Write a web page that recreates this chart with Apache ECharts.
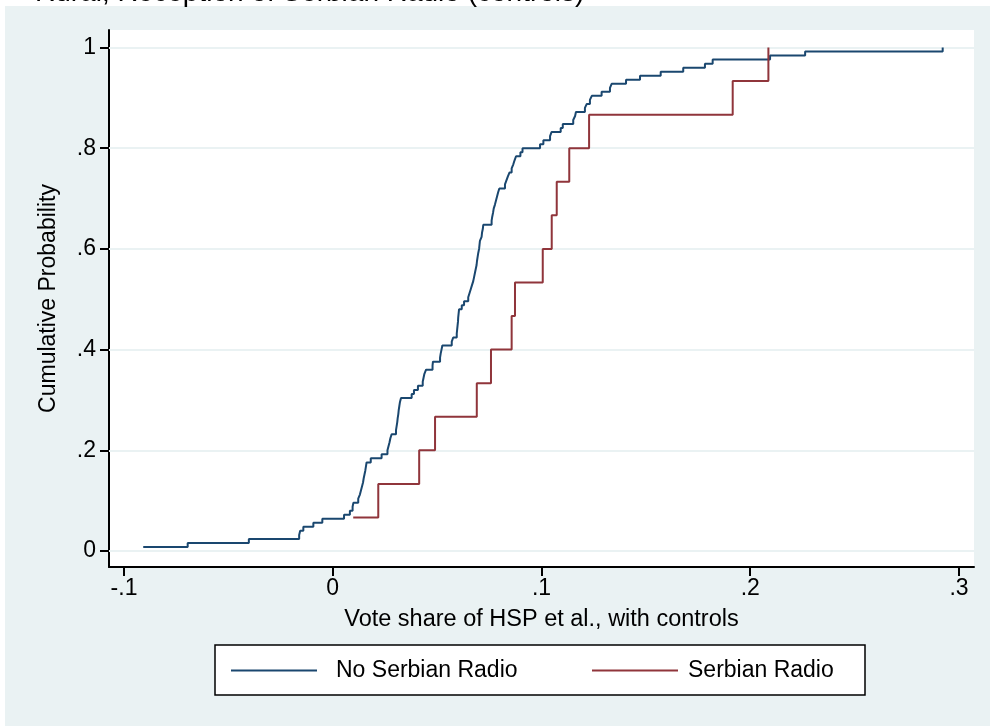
<!DOCTYPE html>
<html>
<head>
<meta charset="utf-8">
<script src="https://cdn.jsdelivr.net/npm/echarts@6/dist/echarts.min.js"></script>
<style>
  html, body { margin: 0; padding: 0; background: #ffffff; }
  #chart { width: 990px; height: 726px; }
</style>
</head>
<body>
<div id="chart"></div>
<script>
// ---------- data ----------
const titleText = 'Rural, Reception of Serbian Radio (controls)';
const xAxisTitle = 'Vote share of HSP et al., with controls';
const yAxisTitle = 'Cumulative Probability';
const seriesNames = ['No Serbian Radio', 'Serbian Radio'];

const xTicks = [-0.1, 0, 0.1, 0.2, 0.3];
const yTicks = [0, 0.2, 0.4, 0.6, 0.8, 1];

// No Serbian Radio: sorted values and their cumulative probabilities
const noRadioX = [
  -0.0908, -0.0695, -0.0402, -0.0161, -0.0156, -0.0141, -0.0093, -0.0050, 0.0054, 0.0082,
  0.0095, 0.0099, 0.0122, 0.0130, 0.0135, 0.0140, 0.0145, 0.0148, 0.0152, 0.0156,
  0.0159, 0.0162, 0.0182, 0.0234, 0.0262, 0.0267, 0.0272, 0.0276, 0.0282, 0.0303,
  0.0306, 0.0309, 0.0311, 0.0314, 0.0316, 0.0319, 0.0322, 0.0327, 0.0378, 0.0389,
  0.0408, 0.0431, 0.0435, 0.0439, 0.0447, 0.0478, 0.0480, 0.0514, 0.0517, 0.0521,
  0.0525, 0.0570, 0.0577, 0.0594, 0.0596, 0.0598, 0.0600, 0.0601, 0.0603, 0.0605,
  0.0618, 0.0629, 0.0649, 0.0655, 0.0661, 0.0667, 0.0673, 0.0677, 0.0681, 0.0685,
  0.0689, 0.0691, 0.0694, 0.0697, 0.0701, 0.0703, 0.0705, 0.0713, 0.0715, 0.0719,
  0.0721, 0.0761, 0.0764, 0.0768, 0.0771, 0.0777, 0.0782, 0.0787, 0.0792, 0.0798,
  0.0825, 0.0832, 0.0839, 0.0847, 0.0857, 0.0865, 0.0871, 0.0878, 0.0899, 0.0909,
  0.0993, 0.1009, 0.1041, 0.1048, 0.1092, 0.1102, 0.1152, 0.1161, 0.1165, 0.1208,
  0.1217, 0.1232, 0.1241, 0.1288, 0.1328, 0.1336, 0.1405, 0.1472, 0.1571, 0.1679,
  0.1783, 0.1820, 0.2095, 0.2263, 0.2922
];
const noRadioF = [
  0.008, 0.016, 0.024, 0.032, 0.040, 0.048, 0.056, 0.064, 0.072, 0.080,
  0.088, 0.096, 0.104, 0.112, 0.120, 0.128, 0.136, 0.144, 0.152, 0.160,
  0.168, 0.176, 0.184, 0.192, 0.200, 0.208, 0.216, 0.224, 0.232, 0.240,
  0.248, 0.256, 0.264, 0.272, 0.280, 0.288, 0.296, 0.304, 0.312, 0.320,
  0.328, 0.336, 0.344, 0.352, 0.360, 0.368, 0.376, 0.384, 0.392, 0.400,
  0.408, 0.416, 0.424, 0.432, 0.440, 0.448, 0.456, 0.464, 0.472, 0.480,
  0.488, 0.496, 0.504, 0.512, 0.520, 0.528, 0.536, 0.544, 0.552, 0.560,
  0.568, 0.576, 0.584, 0.592, 0.600, 0.608, 0.616, 0.624, 0.632, 0.640,
  0.648, 0.656, 0.664, 0.672, 0.680, 0.688, 0.696, 0.704, 0.712, 0.720,
  0.728, 0.736, 0.744, 0.752, 0.760, 0.768, 0.776, 0.784, 0.792, 0.800,
  0.808, 0.816, 0.824, 0.832, 0.840, 0.848, 0.856, 0.864, 0.872, 0.880,
  0.888, 0.896, 0.904, 0.912, 0.920, 0.928, 0.936, 0.944, 0.952, 0.960,
  0.968, 0.976, 0.984, 0.992, 1.000
];

// Serbian Radio
const radioX = [0.0098, 0.0218, 0.0414, 0.0490, 0.0690, 0.0758, 0.0857, 0.0873,
                0.1006, 0.1049, 0.1073, 0.1133, 0.1228, 0.1916, 0.2087];
const radioF = [0.0667, 0.1333, 0.2000, 0.2667, 0.3333, 0.4000, 0.4667, 0.5333,
                0.6000, 0.6667, 0.7333, 0.8000, 0.8667, 0.9333, 1.0000];

// ---------- chart ----------
const navy = '#1a476f';
const maroon = '#90353b';
const gridColor = '#eaf2f3';
const font = "'Liberation Sans', Arial, Helvetica, sans-serif";
const fs = 23;

const pair = (xs, ys) => xs.map((x, i) => [x, ys[i]]);
const tickFmt = v => (v === 0 ? '0' : v === 1 ? '1' : String(v).replace('0.', '.'));

const chart = echarts.init(document.getElementById('chart'), null, { renderer: 'canvas' });

chart.setOption({
  animation: false,
  textStyle: { fontFamily: font, color: '#000' },
  title: {
    text: titleText,
    left: 30,
    top: -26,
    textStyle: { fontFamily: font, fontSize: 28, fontWeight: 'normal', color: '#000' },
    z: 1
  },
  graphic: [
    { type: 'rect', z: -10, silent: true,
      shape: { x: 5, y: 6, width: 990, height: 730 },
      style: { fill: '#eaf2f3' } },
    { type: 'rect', z: 5, silent: true,
      shape: { x: 215, y: 645, width: 650, height: 50 },
      style: { fill: '#ffffff', stroke: '#000000', lineWidth: 1.5 } }
  ],
  grid: {
    left: 109, right: 16, top: 30, bottom: 159,
    show: true, backgroundColor: '#ffffff', borderWidth: 0
  },
  legend: [
    { data: [{ name: seriesNames[0], icon: 'rect' }], left: 231, top: 659,
      itemWidth: 86, itemHeight: 2, padding: 0, z: 10, selectedMode: false,
      textStyle: { fontFamily: font, fontSize: fs, color: '#000', padding: [0, 0, 0, 14] } },
    { data: [{ name: seriesNames[1], icon: 'rect' }], left: 592, top: 659,
      itemWidth: 86, itemHeight: 2, padding: 0, z: 10, selectedMode: false,
      textStyle: { fontFamily: font, fontSize: fs, color: '#000', padding: [0, 0, 0, 5] } }
  ],
  xAxis: {
    type: 'value',
    min: -0.1072, max: 0.3072,
    name: xAxisTitle, nameLocation: 'middle', nameGap: 41,
    nameTextStyle: { fontFamily: font, fontSize: 23.5, color: '#000' },
    axisLine: { show: true, onZero: false, lineStyle: { color: '#000', width: 2 } },
    axisTick: { show: true, customValues: xTicks, length: 9, lineStyle: { color: '#000', width: 2 } },
    axisLabel: { customValues: xTicks, formatter: tickFmt, fontSize: fs, color: '#000', margin: 10, fontFamily: font },
    splitLine: { show: false }
  },
  yAxis: {
    type: 'value',
    min: -0.0318, max: 1.0348,
    name: yAxisTitle, nameLocation: 'middle', nameGap: 49,
    nameTextStyle: { fontFamily: font, fontSize: fs, color: '#000' },
    axisLine: { show: true, onZero: false, lineStyle: { color: '#000', width: 2 } },
    axisTick: { show: true, customValues: yTicks, length: 9, lineStyle: { color: '#000', width: 2 } },
    axisLabel: { customValues: yTicks, formatter: tickFmt, fontSize: fs, color: '#000', margin: 13, fontFamily: font },
    splitLine: { show: false }
  },
  series: [
    {
      name: '_grid', type: 'line', data: [], z: 1, silent: true,
      markLine: {
        silent: true, symbol: ['none', 'none'], animation: false, z: 1,
        label: { show: false },
        lineStyle: { color: gridColor, width: 2, type: 'solid' },
        emphasis: { disabled: true },
        data: yTicks.map(v => ({ yAxis: v }))
      }
    },
    {
      name: seriesNames[0], type: 'line', step: 'end', z: 6,
      data: pair(noRadioX, noRadioF),
      showSymbol: false, symbol: 'none',
      color: navy, itemStyle: { color: navy },
      lineStyle: { color: navy, width: 2 }
    },
    {
      name: seriesNames[1], type: 'line', step: 'end', z: 7,
      data: pair(radioX, radioF),
      showSymbol: false, symbol: 'none',
      color: maroon, itemStyle: { color: maroon },
      lineStyle: { color: maroon, width: 2 }
    }
  ]
});
</script>
</body>
</html>
